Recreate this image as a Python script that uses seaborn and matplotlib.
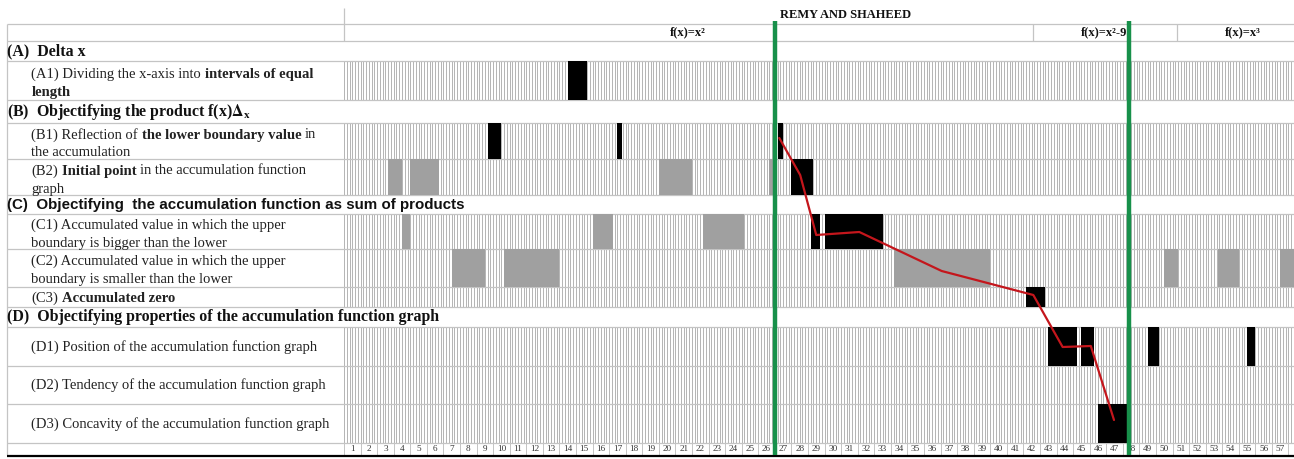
import numpy as np
import matplotlib
matplotlib.use('Agg')
import matplotlib.pyplot as plt
import seaborn as sns
from matplotlib.patches import Rectangle

sns.set_theme(style='white')
plt.rcParams['font.family'] = ['Liberation Serif', 'DejaVu Serif']
plt.rcParams['mathtext.fontset'] = 'stix'

# --- data (x in column units, column k spans k-1..k) ---
n_cols = 57
session_title = 'REMY AND SHAHEED'
task_labels = ['f(x)=x\u00b2', 'f(x)=x\u00b2-9', 'f(x)=x\u00b3']
task_centers = [20.76, 45.89, 54.26]
task_borders = [41.58, 50.27]
task_switch = [26.03, 47.35]

section_rows = ['A', 'B', 'C', 'D']
section_labels = ['(A)  Delta x',
                  r'(B)  Objectifying the product f(x)$\mathbf{\Delta}_{\mathbf{x}}$',
                  '(C)  Objectifying  the accumulation function as sum of products',
                  '(D)  Objectifying properties of the accumulation function graph']

code_rows = ['A1', 'B1', 'B2', 'C1', 'C2', 'C3', 'D1', 'D2', 'D3']
code_lines = {
    'A1': [[('(A1) Dividing the x-axis into', False), ('intervals of equal', True)],
           [('length', True)]],
    'B1': [[('(B1) Reflection of', False), ('the lower boundary value', True), ('in', False)],
           [('the accumulation', False)]],
    'B2': [[('(B2)', False), ('Initial point', True), ('in the accumulation function', False)],
           [('graph', False)]],
    'C1': [[('(C1) Accumulated value in which the upper', False)],
           [('boundary is bigger than the lower', False)]],
    'C2': [[('(C2) Accumulated value in which the upper', False)],
           [('boundary is smaller than the lower', False)]],
    'C3': [[('(C3)', False), ('Accumulated zero', True)]],
    'D1': [[('(D1) Position of the accumulation function graph', False)]],
    'D2': [[('(D2) Tendency of the accumulation function graph', False)]],
    'D3': [[('(D3) Concavity of the accumulation function graph', False)]],
}

blk_row = ['A1',
           'B1', 'B1', 'B1',
           'B2', 'B2', 'B2', 'B2', 'B2',
           'C1', 'C1', 'C1', 'C1', 'C1',
           'C2', 'C2', 'C2', 'C2', 'C2', 'C2',
           'C3',
           'D1', 'D1', 'D1', 'D1',
           'D3']
blk_start = [13.5,
             8.67, 16.5, 26.17,
             2.67, 4.0, 19.0, 25.67, 27.0,
             3.5, 15.0, 21.67, 28.17, 29.0,
             6.5, 9.67, 33.17, 49.5, 52.75, 56.5,
             41.17,
             42.5, 44.5, 48.5, 54.5,
             45.5]
blk_end = [14.67,
           9.5, 16.75, 26.5,
           3.5, 5.75, 21.0, 26.0, 28.33,
           4.0, 16.25, 24.17, 28.75, 32.5,
           8.5, 13.0, 39.0, 50.33, 54.0, 57.6,
           42.33,
           44.25, 45.25, 49.17, 55.0,
           47.33]
blk_kind = ['pair',
            'pair', 'pair', 'pair',
            'other', 'other', 'other', 'other', 'pair',
            'other', 'other', 'other', 'pair', 'pair',
            'other', 'other', 'other', 'other', 'other', 'other',
            'pair',
            'pair', 'pair', 'pair', 'pair',
            'pair']

path_x = [26.27, 27.53, 28.5, 31.1, 36.07, 41.6, 43.37, 45.07, 46.47]
path_y = [138, 175, 235, 232, 271, 295, 347, 346, 420]

# --- layout (pixels) ---
W, H = 1294, 459
X0, CW = 344, 16.57
row_span = {'hdr1': (8, 24), 'hdr2': (24, 40.7), 'A': (40.7, 61), 'A1': (61, 100),
            'B': (100, 123), 'B1': (123, 159), 'B2': (159, 195), 'C': (195, 213.5),
            'C1': (213.5, 248.5), 'C2': (248.5, 287), 'C3': (287, 307), 'D': (307, 326.5),
            'D1': (326.5, 365.5), 'D2': (365.5, 404), 'D3': (404, 442.5), 'num': (442.5, 455)}
line_gap = 18
label_size = 10.5
grid_c = '#b4b4b4'
rule_c = '#c4c4c4'
colors = {'pair': '#000000', 'other': '#a0a0a0'}


def px2x(p):
    return (p - X0) / CW


fig = plt.figure(figsize=(W / 100, H / 100), dpi=100)
ax = fig.add_axes([0, 0, 1, 1])
ax.set_xlim(px2x(0), px2x(W))
ax.set_ylim(H, 0)
ax.axis('off')
renderer = fig.canvas.get_renderer()

# striped grid in code rows
x_right = px2x(W)
sub = np.arange(0, x_right + 1e-6, 1 / 6)
for r in code_rows:
    top, bot = row_span[r]
    ax.vlines(sub, top, bot, color=grid_c, lw=0.7, zorder=1)

# number row
top, bot = row_span['num']
ax.vlines(np.arange(0, n_cols + 1), top, bot, color=rule_c, lw=0.7, zorder=1)
for i in range(1, n_cols + 1):
    ax.text(i - 0.5, (top + bot) / 2 + 0.5, str(i), ha='center', va='center',
            fontsize=6.6, color='#333333')

# horizontal rules
bounds = sorted({v for k, span in row_span.items() if k != 'hdr1' for v in span if v < 455})
ax.hlines(bounds, px2x(7), x_right, color=rule_c, lw=0.9, zorder=1)
ax.hlines(455.5, px2x(7), x_right, color='black', lw=1.6, zorder=3)
ax.vlines(px2x(7), 24, 455, color=rule_c, lw=0.9)
ax.vlines(0, 8, 40.7, color=rule_c, lw=0.9)
ax.vlines(task_borders, 24, 40.7, color=rule_c, lw=0.9)

# header texts
ax.text(px2x(846), 15.5, session_title, ha='center', va='center', fontsize=9,
        fontweight='bold', color='#111111')
for lab, cx in zip(task_labels, task_centers):
    ax.text(cx, 32.5, lab, ha='center', va='center', fontsize=9, fontweight='bold',
            color='#111111')

# code blocks
for r, s, e, k in zip(blk_row, blk_start, blk_end, blk_kind):
    top, bot = row_span[r]
    ax.barh((top + bot) / 2, e - s, left=s, height=bot - top, color=colors[k],
            linewidth=0, zorder=2)

# section headings
for r, lab in zip(section_rows, section_labels):
    top, bot = row_span[r]
    fam = ['Liberation Sans'] if r == 'C' else ['Liberation Serif']
    fs = 10.9 if r == 'C' else 11.4
    ax.text(px2x(7.5), (top + bot) / 2 + 0.5, lab, ha='left', va='center',
            fontsize=fs, fontweight='bold', family=fam, color='#111111')

# code labels with mixed weights
sp = ax.text(0, 0, 'n n', fontsize=label_size)
sp2 = ax.text(0, 0, 'nn', fontsize=label_size)
space_w = sp.get_window_extent(renderer).width - sp2.get_window_extent(renderer).width
sp.remove()
sp2.remove()

for r in code_rows:
    top, bot = row_span[r]
    lines = code_lines[r]
    n = len(lines)
    y0 = (top + bot) / 2 - (n - 1) * line_gap / 2
    shift = 6.5 if n > 1 else 4.5
    clip = Rectangle((px2x(0), top), px2x(X0) - px2x(0), bot - top,
                     transform=ax.transData)
    for li, parts in enumerate(lines):
        xp = 31.5
        for s, bold in parts:
            t = ax.text(px2x(xp), y0 + li * line_gap + shift, s, ha='left', va='baseline',
                        fontsize=label_size, fontweight='bold' if bold else 'normal',
                        color='#222222')
            t.set_clip_path(clip)
            xp += t.get_window_extent(renderer).width + space_w

# task switches and trajectory
ax.vlines(task_switch, 21, 455, color='#17904a', lw=3.2, zorder=4)
sns.lineplot(x=path_x, y=path_y, sort=False, estimator=None, color='#c4161c',
             lw=1.6, ax=ax, zorder=5)
ax.set_xlim(px2x(0), px2x(W))
ax.set_ylim(H, 0)
ax.axis('off')

fig.savefig('out.png', dpi=100, facecolor='white')
